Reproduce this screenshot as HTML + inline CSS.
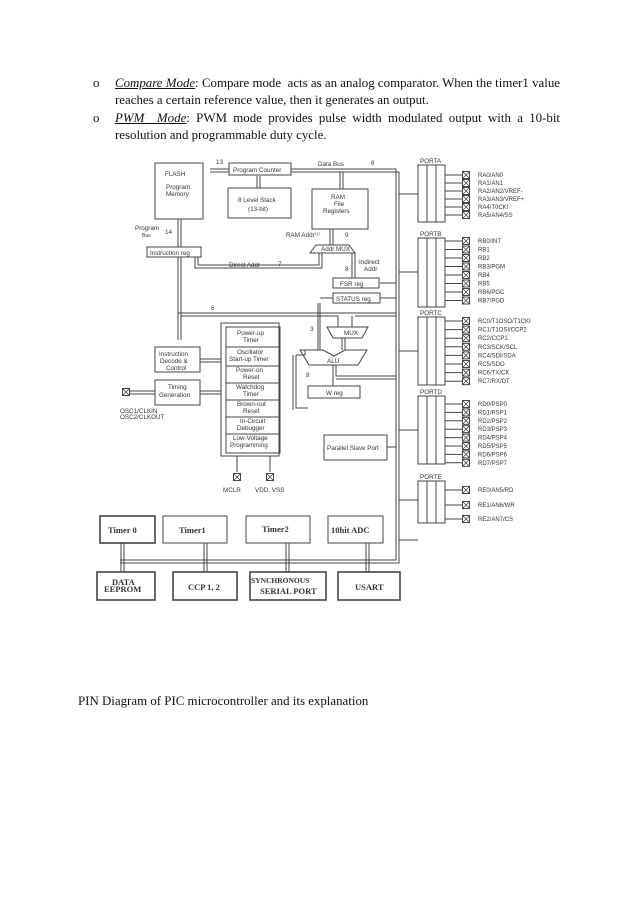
<!DOCTYPE html>
<html><head><meta charset="utf-8"><style>
html,body{margin:0;padding:0;background:#fff;width:638px;height:902px;overflow:hidden}
.t{position:absolute;font-family:"Liberation Serif",serif;font-size:12.9px;color:#111;white-space:nowrap}
svg{position:absolute;left:0;top:0}
svg text{font-family:"Liberation Sans",sans-serif;fill:#333}
</style></head><body>
<div class="t" style="left:93px;top:76px">o</div>
<div class="t" style="left:115px;top:76px;width:445px;white-space:normal;text-align:justify;text-align-last:justify;height:16px;overflow:hidden"><i><u>Compare Mode</u></i>: Compare mode&nbsp; acts as an analog comparator. When the timer1 value</div>
<div class="t" style="left:115px;top:93px">reaches a certain reference value, then it generates an output.</div>
<div class="t" style="left:93px;top:111px">o</div>
<div class="t" style="left:115px;top:111px;width:445px;white-space:normal;text-align:justify;text-align-last:justify;height:16px;overflow:hidden"><i><u>PWM&nbsp; Mode</u></i>: PWM mode provides pulse width modulated output with a 10-bit</div>
<div class="t" style="left:115px;top:128px">resolution and programmable duty cycle.</div>
<div class="t" style="left:78px;top:694px">PIN Diagram of PIC microcontroller and its explanation</div>

<svg width="638" height="902" viewBox="0 0 638 902">
<defs>
<g id="x"><rect x="-3.5" y="-3.5" width="7" height="7" fill="#fff" stroke="#333" stroke-width="0.9"/><path d="M-3.5,-3.5L3.5,3.5M3.5,-3.5L-3.5,3.5" stroke="#333" stroke-width="0.7"/></g>
</defs>
<g fill="none" stroke="#444" stroke-width="1">
<rect x="155" y="163" width="48" height="56"/>
<rect x="229" y="163" width="62" height="12"/>
<rect x="228" y="188" width="63" height="30"/>
<rect x="312" y="189" width="56" height="40"/>
<rect x="147" y="247" width="54" height="10"/>
<path d="M310,253 L316,245 L349,245 L355,253 Z"/>
<rect x="333" y="278" width="46" height="10"/>
<rect x="333" y="293" width="47" height="10"/>
<path d="M291,169 H396 V523 M291,172 H399 V523" />
<path d="M210,169 H229 M210,172 H229"/>
<path d="M340,172 V189 M343,172 V189"/>
<path d="M257,176 V188 M260,176 V188"/>
<path d="M178,219 V247 M181,219 V247"/>
<path d="M195,257 V268 H322 V253 M198,257 V265 H319 V253"/>
<path d="M330,229 V245 M333,229 V245"/>
<path d="M352,253 V278 M355,253 V278"/>
<path d="M380,283 H396 M380,298 H396"/>
<path d="M318,303 V350 M320,303 V350 M320,298 H333"/>
<path d="M178,257 V340 M181,257 V340 M178,313 H396 M181,316 H338 V327 M355,316 H396 M352,316 V327"/>
<path d="M327,327 L368,327 L362,338 L333,338 Z"/>
<path d="M300,350 L323,350 L334,356 L345,350 L367,350 L358,365 L309,365 Z"/>
<path d="M342,338 V350 M345,338 V350"/>
<path d="M296,355 V408 H308 M293,355 V410 M296,355 H305 V350"/>
<path d="M333,365 V386 M336,365 V376 H396 M336,379 H396"/>
<rect x="308" y="386" width="52" height="12"/>
<rect x="324" y="435" width="63" height="25"/>
<path d="M387,447 H396"/>
<rect x="221" y="323" width="58" height="133"/>
<rect x="226" y="327" width="54" height="126"/>
<path d="M226,347 H280 M226,366 H280 M226,383 H280 M226,400 H280 M226,417 H280 M226,434 H280"/>
<rect x="155" y="347" width="45" height="25"/>
<rect x="155" y="380" width="45" height="25"/>
<path d="M200,359 H221 M200,362 H221 M200,391 H221 M200,394 H221 M130,391 H155 M130,394 H155"/>
<path d="M237,456 V472 M270,456 V472"/>
<rect x="418" y="165" width="27" height="57"/><path d="M427,165 V222 M436,165 V222"/>
<rect x="418" y="238" width="27" height="69"/><path d="M427,238 V307 M436,238 V307"/>
<rect x="418" y="317" width="27" height="68"/><path d="M427,317 V385 M436,317 V385"/>
<rect x="418" y="396" width="27" height="68"/><path d="M427,396 V464 M436,396 V464"/>
<rect x="418" y="481" width="27" height="42"/><path d="M427,481 V523 M436,481 V523"/>
<path d="M399,194 H418 M399,272 H418 M399,351 H418 M399,430 H418 M399,500 H418"/>
<path d="M445,175H462M445,183H462M445,191H462M445,199H462M445,207H462M445,215H462"/>
<path d="M445,241H462M445,249.5H462M445,258H462M445,266.5H462M445,275H462M445,283.5H462M445,292H462M445,300.5H462"/>
<path d="M445,321H462M445,329.6H462M445,338.2H462M445,346.8H462M445,355.4H462M445,364H462M445,372.6H462M445,381.2H462"/>
<path d="M445,404H462M445,412.4H462M445,420.8H462M445,429.2H462M445,437.6H462M445,446H462M445,454.4H462M445,462.8H462"/>
<path d="M445,490H462M445,505H462M445,519H462"/>
<path d="M396,523 V560 H120 M399,523 V563 H120 M399,540 H418"/>
<rect x="100" y="516" width="55" height="27" stroke-width="1.6"/>
<rect x="163" y="516" width="64" height="27"/>
<rect x="246" y="516" width="64" height="27"/>
<rect x="328" y="516" width="55" height="27"/>
<rect x="97" y="572" width="58" height="28" stroke-width="1.6"/>
<rect x="173" y="572" width="64" height="28" stroke-width="1.6"/>
<rect x="250" y="572" width="76" height="28" stroke-width="1.6"/>
<rect x="338" y="572" width="62" height="28" stroke-width="1.6"/>
<path d="M121,543V572M124,543V572M204,543V572M207,543V572M286,543V572M289,543V572M366,543V572M369,543V572"/>
</g>
<g>
<use href="#x" x="126" y="392"/><use href="#x" x="237" y="477"/><use href="#x" x="270" y="477"/>
<use href="#x" x="466" y="175"/><use href="#x" x="466" y="183"/><use href="#x" x="466" y="191"/><use href="#x" x="466" y="199"/><use href="#x" x="466" y="207"/><use href="#x" x="466" y="215"/>
<use href="#x" x="466" y="241"/><use href="#x" x="466" y="249.5"/><use href="#x" x="466" y="258"/><use href="#x" x="466" y="266.5"/><use href="#x" x="466" y="275"/><use href="#x" x="466" y="283.5"/><use href="#x" x="466" y="292"/><use href="#x" x="466" y="300.5"/>
<use href="#x" x="466" y="321"/><use href="#x" x="466" y="329.6"/><use href="#x" x="466" y="338.2"/><use href="#x" x="466" y="346.8"/><use href="#x" x="466" y="355.4"/><use href="#x" x="466" y="364"/><use href="#x" x="466" y="372.6"/><use href="#x" x="466" y="381.2"/>
<use href="#x" x="466" y="404"/><use href="#x" x="466" y="412.4"/><use href="#x" x="466" y="420.8"/><use href="#x" x="466" y="429.2"/><use href="#x" x="466" y="437.6"/><use href="#x" x="466" y="446"/><use href="#x" x="466" y="454.4"/><use href="#x" x="466" y="462.8"/>
<use href="#x" x="466" y="490"/><use href="#x" x="466" y="505"/><use href="#x" x="466" y="519"/>
</g>
<g font-size="6.3">
<text x="165" y="176">FLASH</text><text x="166" y="189">Program</text><text x="166" y="196">Memory</text>
<text x="233" y="172">Program Counter</text>
<text x="238" y="202">8 Level Stack</text><text x="248" y="211">(13-bit)</text>
<text x="331" y="199">RAM</text><text x="334" y="206">File</text><text x="323" y="213">Registers</text>
<text x="318" y="166">Data Bus</text><text x="371" y="165">8</text><text x="216" y="164">13</text>
<text x="135" y="230">Program</text><text x="142" y="237" font-size="5">Bus</text><text x="165" y="234">14</text>
<text x="150" y="255">Instruction reg</text>
<text x="286" y="237">RAM Addr⁽¹⁾</text><text x="345" y="237">9</text>
<text x="321" y="251">Addr MUX</text>
<text x="229" y="267">Direct Addr</text><text x="278" y="266">7</text>
<text x="359" y="264">Indirect</text><text x="364" y="271">Addr</text><text x="345" y="271">8</text>
<text x="340" y="286">FSR reg</text><text x="336" y="301">STATUS reg</text>
<text x="211" y="310">6</text><text x="310" y="331">3</text><text x="306" y="377">8</text>
<text x="344" y="335">MUX</text><text x="327" y="363">ALU</text><text x="326" y="395">W reg</text>
<text x="327" y="450">Parallel Slave Port</text>
<text x="159" y="356">Instruction</text><text x="160" y="363">Decode &amp;</text><text x="166" y="370">Control</text>
<text x="168" y="389">Timing</text><text x="159" y="397">Generation</text>
<text x="120" y="413">OSC1/CLKIN</text><text x="120" y="419">OSC2/CLKOUT</text>
<text x="237" y="335">Power-up</text><text x="243" y="342">Timer</text>
<text x="237" y="354">Oscillator</text><text x="229" y="361">Start-up Timer</text>
<text x="236" y="372">Power-on</text><text x="243" y="379">Reset</text>
<text x="236" y="389">Watchdog</text><text x="243" y="396">Timer</text>
<text x="237" y="406">Brown-out</text><text x="243" y="413">Reset</text>
<text x="240" y="423">In-Circuit</text><text x="237" y="430">Debugger</text>
<text x="233" y="440">Low-Voltage</text><text x="230" y="447">Programming</text>
<text x="223" y="492">MCLR</text><text x="255" y="492">VDD, VSS</text>
<text x="420" y="163">PORTA</text><text x="420" y="236">PORTB</text><text x="420" y="315">PORTC</text><text x="420" y="394">PORTD</text><text x="420" y="479">PORTE</text>
<g font-size="6">
<text x="478" y="177">RA0/AN0</text><text x="478" y="185">RA1/AN1</text><text x="478" y="193">RA2/AN2/VREF-</text><text x="478" y="201">RA3/AN3/VREF+</text><text x="478" y="209">RA4/T0CKI</text><text x="478" y="217">RA5/AN4/SS</text>
<text x="478" y="243">RB0/INT</text><text x="478" y="251.5">RB1</text><text x="478" y="260">RB2</text><text x="478" y="268.5">RB3/PGM</text><text x="478" y="277">RB4</text><text x="478" y="285.5">RB5</text><text x="478" y="294">RB6/PGC</text><text x="478" y="302.5">RB7/PGD</text>
<text x="478" y="323">RC0/T1OSO/T1CKI</text><text x="478" y="331.6">RC1/T1OSI/CCP2</text><text x="478" y="340.2">RC2/CCP1</text><text x="478" y="348.8">RC3/SCK/SCL</text><text x="478" y="357.4">RC4/SDI/SDA</text><text x="478" y="366">RC5/SDO</text><text x="478" y="374.6">RC6/TX/CK</text><text x="478" y="383.2">RC7/RX/DT</text>
<text x="478" y="406">RD0/PSP0</text><text x="478" y="414.4">RD1/PSP1</text><text x="478" y="422.8">RD2/PSP2</text><text x="478" y="431.2">RD3/PSP3</text><text x="478" y="439.6">RD4/PSP4</text><text x="478" y="448">RD5/PSP5</text><text x="478" y="456.4">RD6/PSP6</text><text x="478" y="464.8">RD7/PSP7</text>
<text x="478" y="492">RE0/AN5/RD</text><text x="478" y="507">RE1/AN6/WR</text><text x="478" y="521">RE2/AN7/CS</text>
</g>
</g>
<g font-weight="bold" font-size="8.5" fill="#222">
<text x="108" y="533" style="font-family:'Liberation Serif',serif">Timer 0</text>
<text x="179" y="533" style="font-family:'Liberation Serif',serif">Timer1</text>
<text x="262" y="532" style="font-family:'Liberation Serif',serif">Timer2</text>
<text x="331" y="533" style="font-family:'Liberation Serif',serif">10hit ADC</text>
<text x="112" y="585" style="font-family:'Liberation Serif',serif">DATA</text>
<text x="104" y="592" style="font-family:'Liberation Serif',serif">EEPROM</text>
<text x="188" y="590" style="font-family:'Liberation Serif',serif">CCP 1, 2</text>
<text x="251" y="583" style="font-family:'Liberation Serif',serif" font-size="7.5">SYNCHRONOUS</text>
<text x="260" y="594" style="font-family:'Liberation Serif',serif">SERIAL PORT</text>
<text x="355" y="590" style="font-family:'Liberation Serif',serif">USART</text>
</g>
</svg>
</body></html>
